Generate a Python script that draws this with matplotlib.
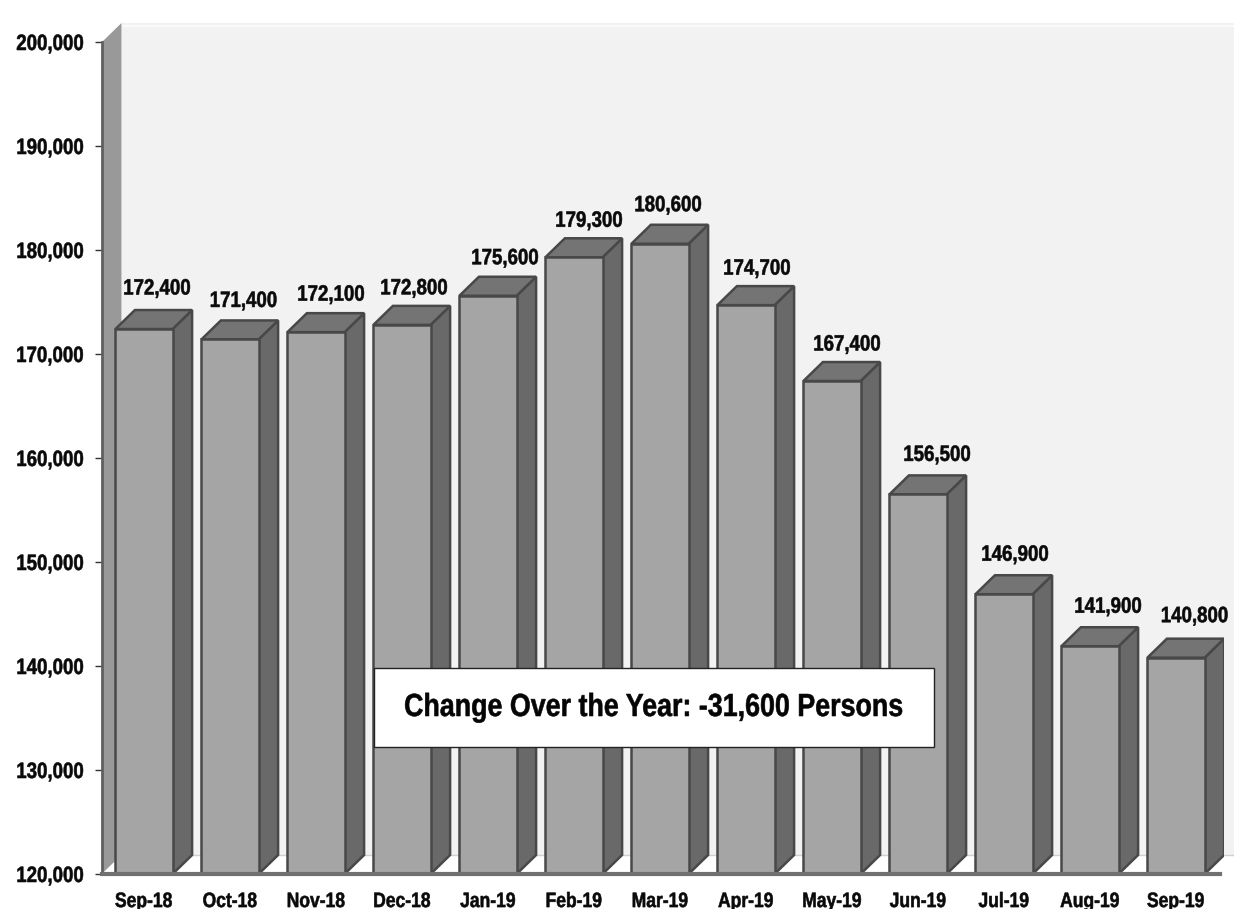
import matplotlib
matplotlib.use('Agg')
import matplotlib.pyplot as plt
from matplotlib.patches import Polygon, Rectangle
from matplotlib.patheffects import AbstractPathEffect
from matplotlib.transforms import Affine2D

months = ['Sep-18', 'Oct-18', 'Nov-18', 'Dec-18', 'Jan-19', 'Feb-19', 'Mar-19',
          'Apr-19', 'May-19', 'Jun-19', 'Jul-19', 'Aug-19', 'Sep-19']
persons = [172400, 171400, 172100, 172800, 175600, 179300, 180600,
           174700, 167400, 156500, 146900, 141900, 140800]
y_ticks = [120000, 130000, 140000, 150000, 160000, 170000, 180000, 190000, 200000]
note = 'Change Over the Year: -31,600 Persons'

# label offsets from the bar front top, in pixels (they wander a bit in the original)
label_dx = [13, 13.5, 15, 12, 17, 15, 8, 11, 15, 19, 11, 18, 18.5]
label_dy = [40, 38, 37, 36, 37, 36, 38, 36, 36, 39, 39, 39, 41]

W, H = 1234, 909
# axes box in pixels
left, right, top, bottom = 102, 1224, 42, 874
# depth of the 3d effect
dx = 19.5 / 86.0
dy = 19 * 80000 / (bottom - top)
bar_w = 0.665
edge = '#484848'
squeeze = 0.84


# the original text is a horizontally squashed arial bold, no narrow font here
class Squeeze(AbstractPathEffect):
    def __init__(self, factor, anchor='center', stroke=0.4):
        super().__init__()
        self.factor = factor
        self.anchor = anchor
        self.stroke = stroke

    def draw_path(self, renderer, gc, tpath, affine, rgbFace=None):
        box = tpath.get_extents(affine)
        cx = box.x1 if self.anchor == 'right' else (box.x0 + box.x1) / 2
        squash = Affine2D().translate(-cx, 0).scale(self.factor, 1).translate(cx, 0)
        gc2 = renderer.new_gc()
        gc2.copy_properties(gc)
        gc2.set_foreground(rgbFace)
        gc2.set_linewidth(self.stroke)
        renderer.draw_path(gc2, tpath, affine + squash, rgbFace)
        gc2.restore()


plt.rcParams['font.family'] = ['Liberation Sans', 'DejaVu Sans']
fig = plt.figure(figsize=(W / 100, H / 100), dpi=100)
ax = fig.add_axes([left / W, 1 - bottom / H, (right - left) / W, (bottom - top) / H])
ax.set_xlim((left - 144) / 86.0, (right - 144) / 86.0)
ax.set_ylim(120000, 200000)
ax.patch.set_alpha(0)
for s in ax.spines.values():
    s.set_visible(False)

x0, x1 = ax.get_xlim()
y0, y1 = ax.get_ylim()
x_edge = (W - 144) / 86.0

# back wall, left wall and floor
ax.add_patch(Polygon([(x0 + dx, y0 + dy), (x_edge, y0 + dy), (x_edge, y1 + dy), (x0 + dx, y1 + dy)],
                     fc='#f2f2f2', ec='none', clip_on=False, zorder=1))
ax.plot([x0 + dx, x_edge], [y1 + dy - 250, y1 + dy - 250], color='#fafafa', lw=1.5, zorder=1.5, clip_on=False)
ax.add_patch(Polygon([(x0, y0), (x0 + dx, y0 + dy), (x0 + dx, y1 + dy), (x0, y1)],
                     fc='#999999', ec='none', clip_on=False, zorder=2))
ax.plot([x0, x0], [y0, y1], color='#606060', lw=2, zorder=3, clip_on=False)
ax.add_patch(Polygon([(x0, y0), (x_edge - dx, y0), (x_edge, y0 + dy), (x0 + dx, y0 + dy)],
                     fc='#ffffff', ec='none', clip_on=False, zorder=2))
ax.plot([x0 + dx, x_edge], [y0 + dy, y0 + dy], color='#d0d0d0', lw=1, zorder=2.5, clip_on=False)
ax.plot([x0, x1 - 0.05], [y0, y0], color='#707070', lw=3, zorder=6, clip_on=False)

# 3d bars
for i, v in enumerate(persons):
    l, r = i - bar_w / 2, i + bar_w / 2
    ax.add_patch(Polygon([(r, y0), (r + dx, y0 + dy), (r + dx, v + dy), (r, v)],
                         fc='#696969', ec=edge, lw=1.8, zorder=4))
    ax.add_patch(Polygon([(l, v), (r, v), (r + dx, v + dy), (l + dx, v + dy)],
                         fc='#747474', ec=edge, lw=1.8, zorder=4))
    ax.annotate(f'{v:,}', (i, v), xytext=(label_dx[i], label_dy[i]), textcoords='offset pixels',
                ha='center', va='center', fontsize=16, fontweight='bold', color='#0a0a0a', zorder=7,
                path_effects=[Squeeze(squeeze)])
ax.bar(range(len(persons)), [v - y0 for v in persons], bottom=y0, width=bar_w,
       color='#a5a5a5', edgecolor=edge, linewidth=1.8, zorder=5)

ax.set_xticks(range(len(months)))
ax.set_xticklabels(months, fontsize=15, fontweight='bold', color='#0a0a0a', path_effects=[Squeeze(squeeze)])
ax.set_yticks(y_ticks)
ax.set_yticklabels([f'{v:,}' for v in y_ticks], fontsize=16, fontweight='bold', color='#0a0a0a',
                   path_effects=[Squeeze(squeeze, 'right')])
ax.tick_params(axis='x', length=0, pad=13)
ax.tick_params(axis='y', length=5, width=1, color='#333333', pad=8)

# note box
box = Rectangle((374 / W, 1 - 747 / H), 560 / W, 79 / H, transform=fig.transFigure,
                fc='white', ec='#222222', lw=1, zorder=8)
ax.add_patch(box)
ax.text(654 / W, 1 - 708 / H, note, transform=fig.transFigure, ha='center', va='center',
        fontsize=23, fontweight='bold', color='#050505', zorder=9, path_effects=[Squeeze(squeeze)])

fig.savefig('out.png', dpi=100)
